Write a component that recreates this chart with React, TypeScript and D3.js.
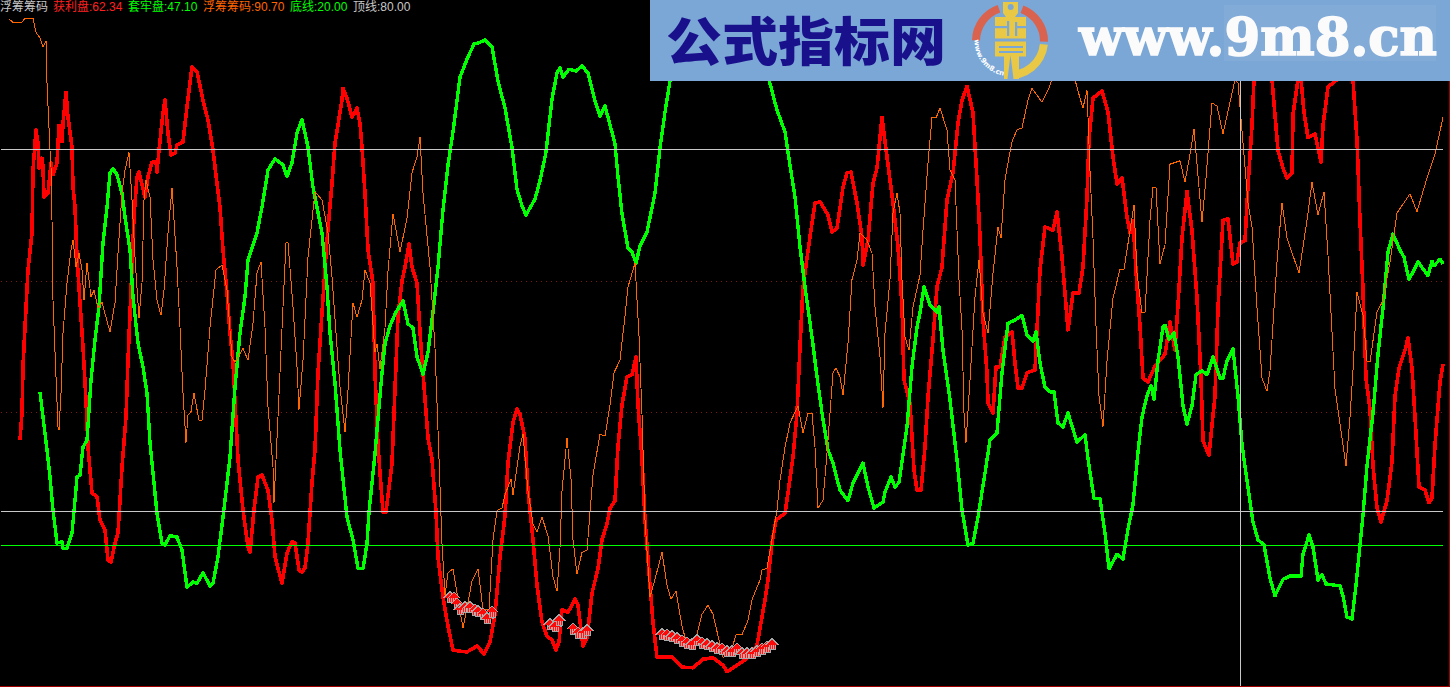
import React from "react";
import * as d3 from "d3";

const WIDTH = 1450;
const HEIGHT = 687;

// Position along the time axis, and indicator value (0-100) at that position.
const redPos = [20,22,23,25,28,32,33,36,38,39,42,43,44,48,51,53,57,59,62,63,66,68,72,73,75,77,80,83,86,88,92,97,100,105,108,111,115,118,122,126,128,132,134,137,139,145,148,152,156,157,159,163,165,168,171,175,177,183,187,192,197,203,208,213,218,220,223,227,230,233,236,238,243,248,250,254,258,262,268,272,275,282,287,292,295,299,302,305,308,312,315,318,322,327,332,335,342,343,347,352,357,360,362,365,368,373,375,378,383,386,392,395,398,402,405,409,412,417,420,423,428,432,436,438,443,448,453,460,467,477,484,490,495,500,505,508,513,517,520,525,528,533,537,542,547,552,556,559,562,568,575,578,583,587,592,598,602,607,610,615,618,622,627,632,636,638,642,645,650,653,657,672,682,693,703,713,723,727,745,757,765,768,772,776,785,788,793,797,800,803,810,815,820,828,832,837,843,847,851,857,862,863,868,873,877,882,887,893,898,902,904,910,914,917,921,925,928,933,937,942,947,953,958,962,967,973,977,980,983,987,988,993,996,1000,1005,1012,1015,1018,1022,1027,1035,1037,1040,1045,1053,1057,1062,1068,1073,1079,1083,1087,1089,1093,1102,1108,1113,1117,1122,1127,1130,1133,1137,1140,1143,1148,1155,1165,1170,1175,1178,1182,1187,1192,1197,1201,1203,1209,1215,1218,1223,1228,1233,1237,1240,1245,1248,1252,1254,1260,1268,1272,1278,1283,1287,1292,1293,1298,1300,1301,1304,1308,1315,1321,1323,1328,1337,1345,1353,1357,1360,1363,1366,1370,1373,1377,1381,1387,1392,1395,1399,1405,1408,1412,1415,1419,1425,1429,1432,1435,1440,1443];
const redVal = [35.9,40,47,53,61.7,67.3,76.8,82.9,80.9,77.1,78.6,77.3,72.7,73.3,77.9,76.1,77.9,83.6,81.1,83.9,88.6,84.8,80.3,74.2,71.2,63.6,56.7,50,42,34.8,27.9,27.3,23.8,22.3,17.7,17.4,20.3,21.8,31.8,39.4,48,62.1,69.7,75.8,76.5,72.7,75.8,78,78,76.5,79.8,85.5,87.4,82.4,79.1,79.4,80.6,81.1,86.4,92.4,91.7,87.4,84.4,79.8,73.5,71.2,64.7,58.2,52.1,47.6,38.9,32.9,25.3,19.7,18.9,25.3,30.3,30.6,28.3,23.8,18.2,14.2,18.8,20.5,20.3,16.2,15.9,16.5,20.3,29.4,34.4,46.1,55.2,66.2,74.8,80.9,87.4,89.2,87.7,84.8,86.2,83.9,80.3,73.3,64.7,59.7,46.1,35,25,25,32.4,43.6,54.7,60,62.1,65.6,62.1,59.7,52.3,46.1,36.2,33,25,18.2,12.1,7.7,4.1,3.9,3.8,4.7,3.5,5.3,9.5,18.2,24.4,32.4,38.6,40.6,39.8,36.2,28.2,20.8,13.9,8.3,6.2,5.6,4.1,5.3,10.2,9.8,11.8,10.9,4.7,5.9,12.7,16.4,20.8,23.2,25.6,26.7,35,41.2,45.5,45.8,48.5,41.2,33,23.8,13.9,8.3,3,3,1.5,1.4,2.7,2.9,1.8,0.8,2.6,4.8,11.7,14.7,20.3,23.8,24.8,27.9,33.3,40,50,59.1,66.7,71.8,72,70,67.4,68,74.2,76.4,76.5,71.8,66.7,62.4,66.2,74.8,77.1,84.8,78.8,71.8,65.2,56.1,45,41.5,31.4,28.3,28.3,34.8,42.4,51.1,59.1,62.1,72.3,76.4,83.9,87.4,89.5,85.5,75.3,66.7,54.1,46.1,41.5,40,47,47,51.5,52.3,47.6,43.8,43.8,46.1,46.5,52.6,61.7,68.2,67.7,70.5,63.6,52.6,58.2,58.2,62.1,72.7,81.4,87.7,88.8,85.6,78.8,74.7,75.6,69.7,67.3,69.2,59.1,53.2,45.3,44.7,47.1,48.9,53.8,49.5,56.4,66.5,73.6,67.6,57.4,45.3,35.8,33.6,42.6,55.9,69.2,69.4,62.6,62.9,65.8,66.1,74.5,83.5,90.5,94.2,94.2,90.5,79.8,77.1,75.6,76.4,85.2,90.5,93.5,90.5,85.6,81.7,82.3,78,83.5,89.4,90.5,92,90.5,81.4,69.2,58.6,45.3,40.5,32,25.6,23.5,26.7,32.6,42.6,46.8,49.5,51.4,46.8,39.4,28.8,28.3,26.4,27.1,35.2,44.7,47.4];

const greenPos = [40,43,47,50,53,57,62,63,67,72,75,77,80,83,87,91,95,99,103,107,110,113,117,122,125,130,133,138,143,147,150,153,157,162,165,170,177,182,187,193,197,203,210,213,218,223,230,235,240,245,248,257,262,268,275,283,287,292,297,302,308,313,322,327,330,335,340,347,353,358,363,367,369,375,378,382,385,390,396,403,408,413,417,423,428,433,438,443,448,453,460,467,474,479,485,492,498,505,512,517,522,526,535,540,546,552,557,560,563,569,576,582,588,595,600,605,615,618,622,628,632,636,640,647,655,660,665,670,680,700,725,750,769,777,785,788,795,800,805,812,817,822,828,833,840,848,853,863,868,874,883,885,891,895,899,907,912,917,920,924,930,937,939,943,950,957,962,968,973,978,985,990,997,1002,1008,1015,1022,1027,1033,1036,1040,1045,1050,1054,1058,1063,1068,1077,1085,1089,1094,1100,1105,1109,1117,1123,1128,1133,1138,1142,1147,1151,1154,1158,1163,1165,1169,1174,1178,1183,1187,1192,1196,1202,1207,1213,1220,1223,1227,1233,1238,1242,1247,1253,1258,1264,1270,1275,1283,1290,1301,1303,1309,1313,1318,1322,1326,1340,1343,1347,1352,1356,1363,1367,1373,1378,1383,1388,1393,1400,1404,1409,1418,1428,1432,1434,1440,1443];
const greenVal = [43.2,39.4,34.4,30.3,25.3,20.3,20.5,19.5,19.5,21.8,26.8,30.3,30.6,34.8,35.9,45,51.1,56.1,65.8,71.2,76.4,77,76.1,73.3,69.7,64.7,57.6,50.6,47,43,35.5,30.9,24.8,20.3,20,21.4,21.2,19.2,13.6,14.4,14.2,15.8,13.8,14.2,18.2,24.2,33.3,43.9,52.1,57.6,63.2,67.3,71.2,76.8,78.5,77.6,75.8,77.9,82.4,84.5,80.3,74.2,67.3,59.1,52.1,44.5,34.4,24.2,20.8,16.5,16.4,20.2,25,33.8,39.2,46.1,50.5,53.2,55.3,57,53.5,52.9,48.5,45.9,49.2,55.3,62.1,70.8,77.6,82.6,90.9,93.6,95.9,96.1,96.5,95.5,90.3,86.2,80.2,73.9,71.4,70,72.4,75.2,79.5,87.6,91.5,92.3,90.9,92.1,91.8,92.6,91.5,87.3,85,86.5,80.8,75.8,70.2,65,64.4,62.7,65.3,67.4,73.3,80.2,85.6,90.3,96.5,99.2,99.5,96.5,90.5,85.9,82.6,79.5,72.7,65.2,59.1,51.5,45.5,40,34.4,32.4,28.3,26.7,29.4,32.4,28.8,25.6,26.5,28,30.3,28.8,29.5,37.9,47,53,55.2,59.1,56.4,55.3,56.1,49.5,42,32.9,25.3,20,20.3,24.2,30.9,35.9,37,46.1,53.6,54.1,54.8,51.8,50.9,52.3,47.6,43.9,43.2,43.2,38.5,37.9,40,35.6,36.7,32,27.1,27,21.8,16.4,18.6,17.9,22.4,26.1,34.1,39.4,42.6,44.2,42.1,47.9,53,53.3,51.2,52.1,48.5,41.1,38.3,41.1,45.8,46.4,45.8,48.5,45.3,45.3,47.9,49.7,42.6,35.2,29.8,23.5,20.8,20,15,12.3,14.8,15.3,15.3,18.6,21.5,19.7,14.7,15.5,14.1,13.8,12.3,9.1,8.8,13.9,24.5,32,40,48.9,55.9,64.4,67.1,64.7,63.6,60.2,62.9,60.8,63,62.3,63.3,62.6];

const orangePos = [9,13,22,25,33,36,40,43,46,47,50,51,52,53,56,58,59,61,63,67,71,73,76,79,82,84,87,91,94,98,102,106,110,115,118,122,125,129,132,135,139,142,144,146,150,153,157,161,164,168,172,177,180,183,186,188,191,194,199,202,205,210,216,222,227,232,235,243,248,253,257,261,265,268,273,274,278,283,286,288,293,297,299,303,308,315,322,328,332,337,340,345,348,353,357,362,365,370,375,377,380,385,388,393,400,407,412,417,420,423,430,435,438,442,445,448,453,457,463,472,478,483,489,493,497,502,505,511,513,520,523,528,533,537,542,548,553,557,560,562,567,571,573,577,582,587,593,600,605,610,614,620,625,628,635,639,642,645,650,655,662,667,671,676,682,688,693,702,708,713,723,730,736,742,748,752,760,762,767,777,780,785,790,798,803,808,812,815,818,823,827,833,836,840,843,848,852,857,860,867,872,875,880,883,885,890,893,897,900,902,905,909,913,920,923,928,932,936,940,947,950,955,957,959,962,964,966,970,975,979,983,988,993,998,1001,1005,1009,1012,1017,1022,1028,1032,1042,1048,1052,1062,1075,1080,1083,1087,1090,1093,1096,1099,1103,1107,1113,1120,1124,1130,1134,1137,1142,1145,1150,1153,1156,1160,1165,1170,1180,1185,1190,1194,1202,1206,1212,1217,1223,1235,1238,1243,1248,1252,1257,1262,1267,1270,1277,1282,1287,1299,1307,1312,1318,1324,1328,1335,1342,1346,1350,1353,1357,1363,1367,1370,1377,1383,1390,1397,1410,1417,1427,1435,1443];
const orangeVal = [99.7,99.2,99.2,99.8,99.8,97.7,96.8,95.5,96.4,90,79.8,77.3,69.2,57.1,45.5,37.9,37.4,43,52.1,59.7,64.7,66.2,62.1,64.2,61.7,57.1,62.7,57.6,58.6,55.9,56.8,54.5,52.3,56.7,64.2,73.3,76.8,79.5,72.3,63.6,54.4,59.7,72.3,75.3,72.7,63.2,57.1,54.8,58.6,67.3,74.1,62.1,53,43,35.5,39.7,40.2,43,38.9,38.9,43.5,53,61.7,62.4,58.6,48.5,47.7,49.8,48,53.6,61.2,62.9,53,40.9,31.8,26.4,39.4,56.1,65.8,65.8,56.1,47,40.5,48,63.6,73.5,72.3,67.3,60.6,50,43.9,37.1,43.5,56.7,54.5,57.1,61.7,59.7,49.2,50.5,46.7,52.9,61.5,70.2,64.4,69.5,76.4,78.8,81.8,73.3,62.1,49.8,37.4,20.2,12.4,15.8,16.4,12.7,7.4,14.5,16.4,10.2,10.2,20.8,25.2,25.6,27.6,30,27.6,35,36.8,28.2,23.2,22,24.2,21.4,15.2,13,19.5,28.2,36.2,30,20.8,15.6,18.9,19.2,30.6,36.8,36.5,41.2,46.1,48,54.7,59.1,62.7,51.7,39.8,23.8,12.1,14.8,18.9,13.9,11.8,13,7.7,4.4,4.1,9.5,10.9,9.5,3,3.3,6.4,6.4,8.6,11.7,14.7,16.2,16.5,25.3,29.8,34.8,38.5,41.1,37,40,40,34.8,25.6,26.8,33.9,46.1,46.8,45.5,42.7,50.6,60.2,63.2,67.3,66.2,64.2,56.1,48.5,40.8,52.1,60.2,70.3,73.3,70.3,60.2,51.5,49.5,56.1,60.9,67.7,77.9,84.8,84.7,86.2,82.9,76.8,75.3,67.7,60.2,52.6,40,35.5,45,57.6,63.2,55.2,52.1,61.2,68.2,66.5,75.3,78.8,81.1,82.9,83.2,87.4,89.2,87.1,88.9,90.5,94.2,90.5,87.7,86.2,88.9,76.7,66.5,53.2,42.6,37.9,47.9,57.4,61.8,61.8,67.6,71.5,61.2,55.2,55.2,69.2,74.2,74.2,62.6,65.5,77.7,78.2,75,79.2,83,68.9,75.6,87,86.5,82.3,90.5,90,80.9,71.8,68.2,55.9,45.3,43.3,46.4,62.9,71.8,66.5,61.2,69.2,75,70,73.5,63.9,43.6,36.2,32,39.4,46.4,58.3,54.8,47.9,47.7,55.3,57,62.9,70.3,73.2,70.5,75.6,79.2,84.8];

const arrowPos = [450,454,457,460,465,470,475,478,483,487,492,550,555,559,573,578,583,587,662,667,672,677,682,687,692,697,702,707,712,717,722,727,732,737,742,747,752,757,762,767,772];
const arrowVal = [13,12.9,12,11.2,11.5,11.5,11.1,10.9,10.5,9.8,10.8,8.9,8.6,9.5,8.2,7.6,7.6,8,7.4,7.3,7.1,6.8,6.4,6.1,5.9,6.5,6.1,5.9,5.6,5.3,5.2,4.8,4.8,5.2,4.5,4.5,4.5,4.8,5.2,5.5,5.9];

const solidLevels = [80, 25.15];
const bottomLevel = 20;
const dottedLevels = [59.9, 40.15];
const crosshairPos = 1240;

const legendNames = ["浮筹筹码", "获利盘:62.34", "套牢盘:47.10", "浮筹筹码:90.70", "底线:20.00", "顶线:80.00"];
const legendColors = ["#c8c8c8", "#ff2020", "#00ff00", "#ff6600", "#00ff00", "#c8c8c8"];
const legendOffsets = [0, 53, 128, 203, 290, 353];

const x = d3.scaleLinear().domain([0, WIDTH]).range([0, WIDTH]);
const y = d3.scaleLinear().domain([0, 100]).range([677, 17]);

function pathFor(pos: number[], val: number[]) {
  const line = d3.line<number>().x((d) => x(d)).y((_, i) => y(val[i])).curve(d3.curveLinear);
  return line(pos) as string;
}

function Arrow({ px, py }: { px: number; py: number }) {
  const outline = "M0,-0.5 L7,6.5 L3.5,6.5 L3.5,12 L-3.5,12 L-3.5,6.5 L-7,6.5 Z";
  return (
    <g transform={`translate(${px},${py})`} shapeRendering="crispEdges">
      <path d={outline} fill="#a8a8a8" />
      <path d="M0,1 L5.5,6.5 L-5.5,6.5 Z" fill="#ff0808" />
      {[-2, -1, 0, 1, 2].map((o) => (
        <rect key={o} x={o - 0.5} y={6.5} width={1} height={4.5} fill={o % 2 === 0 ? "#ff1818" : "#f0a0a0"} />
      ))}
    </g>
  );
}

function Banner() {
  const cx = 1010;
  const cy = 41;
  const arc = d3.arc();
  const leftArc = arc({ innerRadius: 30, outerRadius: 38, startAngle: -Math.PI / 2 + 0.02, endAngle: -0.33 }) as string;
  const rightArc = arc({ innerRadius: 30, outerRadius: 38, startAngle: 0.36, endAngle: Math.PI / 2 + 0.02 }) as string;
  const yellowArc = arc({ innerRadius: 30, outerRadius: 38, startAngle: Math.PI / 2 + 0.1, endAngle: Math.PI + 0.1 }) as string;
  const bg = "#7ba7d6";
  return (
    <g>
      <rect x={650} y={0} width={800} height={81} fill={bg} />
      <rect x={1224} y={5} width={212} height={56} fill="#82abd8" />
      <text x={666} y={61} fontFamily="'Noto Sans CJK SC'" fontWeight={900} fontSize={52} fill="#19108c" textLength={280} lengthAdjust="spacingAndGlyphs">公式指标网</text>
      <g transform={`translate(${cx},${cy})`}>
        <path d={leftArc} fill="#d9634e" />
        <path d={rightArc} fill="#d9634e" />
        <path d={yellowArc} fill="#e8c845" />
        <path d="M-7,-39 L8,-39 L8,-28 L5,-24 L16,-24 L16,-2.5 L-15,-2.5 L-15,-24 L-4,-24 L-7,-28 Z" fill="#e8c845" />
        <path d="M-15,0.5 L16,0.5 L16,15.5 L9,15.5 L9,38 L-6,38 L-6,15.5 L-15,15.5 Z" fill="#e8c845" />
        <circle cx={0.7} cy={-34} r={3} fill={bg} />
        <rect x={-15} y={-15} width={12} height={2.2} fill={bg} />
        <rect x={-3} y={-20} width={2.2} height={15} fill={bg} />
        <rect x={5} y={-19} width={2.2} height={14} fill={bg} />
        <rect x={5} y={-15} width={11} height={2.2} fill={bg} />
        <rect x={-11} y={5} width={24} height={2} fill={bg} />
        <rect x={-11} y={10} width={24} height={2} fill={bg} />
        <path d="M0.5,14 L3.5,38 L-2.5,38 Z" fill={bg} />
        <path id="logoArc" d="M-35,-5 A35,35 0 0 0 -3,35" fill="none" />
        <text fontSize={7} fontFamily="'DejaVu Sans'" fontWeight={700} fill="#ffffff">
          <textPath href="#logoArc" startOffset="6%">www.9m8.cn</textPath>
        </text>
      </g>
      <text x={1079} y={55} fontFamily="'DejaVu Serif'" fontWeight={700} fontSize={52} fill="#fbfbfb" stroke="#fbfbfb" strokeWidth={1.6} textLength={358} lengthAdjust="spacingAndGlyphs">www.9m8.cn</text>
    </g>
  );
}

export default function App() {
  return (
    <svg width={WIDTH} height={HEIGHT} style={{ position: "fixed", left: 0, top: 0, background: "#000", display: "block" }}>
      <rect x={0} y={0} width={WIDTH} height={HEIGHT} fill="#000" />
      <g shapeRendering="crispEdges">
        {dottedLevels.map((v) => (
          <line key={v} x1={1} x2={1443} y1={y(v)} y2={y(v)} stroke="#7a1a10" strokeWidth={1} strokeDasharray="1 4" />
        ))}
      </g>
      <g fill="none" shapeRendering="crispEdges" strokeLinejoin="round">
        <path d={pathFor(redPos, redVal)} stroke="#ff0000" strokeWidth={3.6} />
        <path d={pathFor(greenPos, greenVal)} stroke="#00ff00" strokeWidth={3.4} />
        <path d={pathFor(orangePos, orangeVal)} stroke="#ff6600" strokeWidth={1} />
      </g>
      <g shapeRendering="crispEdges">
        {solidLevels.map((v) => (
          <rect key={v} x={1} width={1442} y={Math.round(y(v))} height={1} fill="#c8c8c8" />
        ))}
        <rect x={1} width={1442} y={Math.round(y(bottomLevel))} height={1} fill="#00ff00" />
        <rect x={x(crosshairPos)} width={1} y={0} height={HEIGHT} fill="#c8c8c8" />
        <rect x={0} width={WIDTH} y={686} height={1} fill="#a00000" />
        <rect x={1449} width={1} y={0} height={HEIGHT} fill="#a00000" />
      </g>
      <g>
        {arrowPos.map((p, i) => (
          <Arrow key={p} px={x(p)} py={y(arrowVal[i])} />
        ))}
      </g>
      <g fontFamily="'Liberation Sans','Noto Sans CJK SC'" fontSize={12}>
        {legendNames.map((t, i) => (
          <text key={i} x={legendOffsets[i]} y={11} fill={legendColors[i]}>{t}</text>
        ))}
      </g>
      <Banner />
    </svg>
  );
}
